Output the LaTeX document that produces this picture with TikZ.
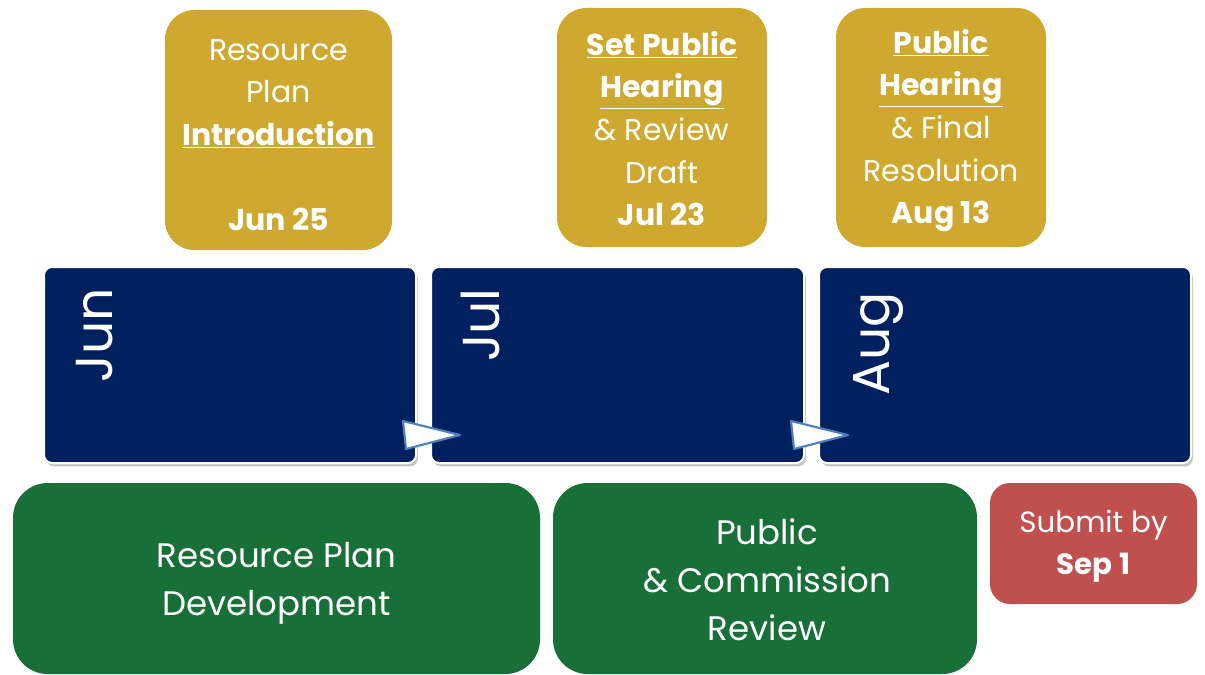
\documentclass[tikz,border=0pt]{standalone}
\usepackage{fontspec}
\setmainfont{Poppins}
\usetikzlibrary{shadows,calc}
\definecolor{gold}{RGB}{207,168,48}
\definecolor{navy}{RGB}{0,32,96}
\definecolor{dgreen}{RGB}{25,111,56}
\definecolor{dred}{RGB}{192,80,77}
\definecolor{triblue}{RGB}{79,129,189}
\tikzset{
  goldbox/.style={fill=gold, rounded corners=22pt, inner sep=0pt},
  goldtext/.style={text=white, align=center, inner sep=0pt, font=\fontsize{22.5}{32}\selectfont},
  navybox/.style={fill=navy, draw=white, line width=1.5pt, rounded corners=6pt, inner sep=0pt,
    drop shadow={shadow xshift=1.5pt, shadow yshift=-2.5pt, opacity=0.45, fill=gray}},
  monthlabel/.style={rotate=90, anchor=base east, text=white, inner sep=0pt,
    font=\fontsize{39}{39}\selectfont},
  greenbox/.style={fill=dgreen, rounded corners=26pt, inner sep=0pt},
  greentext/.style={text=white, align=center, inner sep=0pt, font=\fontsize{25.5}{36}\selectfont},
  redbox/.style={fill=dred, rounded corners=15pt, inner sep=0pt},
  redtext/.style={text=white, align=center, inner sep=0pt, font=\fontsize{22}{31.5}\selectfont},
  tri/.style={fill=white, draw=triblue, line width=1.6pt, line join=round}
}
\begin{document}
\begin{tikzpicture}[x=0.75pt,y=-0.75pt]
\useasboundingbox (0,0) rectangle (1205,674);
\fill[white] (0,0) rectangle (1205,674);
\clip (0,0) rectangle (1205,674);
% gold boxes
\node[goldbox, minimum width=170.25pt, minimum height=180pt] (g1) at (278.5,130) {};
\node[goldbox, minimum width=157.5pt, minimum height=179.25pt] (g2) at (662,127.5) {};
\node[goldbox, minimum width=157.5pt, minimum height=179.25pt] (g3) at (941,127.5) {};
\node[goldtext] (t1) at ($(g1.center)+(0,5)$)
  {Resource\\Plan\\\textbf{\underline{Introduction}}\\[32pt]\textbf{Jun 25}};
\node[goldtext] (t2) at ($(g2.center)+(0,1)$)
  {\textbf{\underline{Set Public}}\\\textbf{\underline{Hearing}}\\\& Review\\Draft\\\textbf{Jul 23}};
\node[goldtext] (t3) at ($(g3.center)+(0,3)$)
  {\textbf{\underline{Public}}\\\textbf{\underline{Hearing}}\\\& Final\\Resolution\\\textbf{Aug 13}};
% navy boxes
\node[navybox, minimum width=279pt, minimum height=147pt] (n1) at (230,365) {};
\node[navybox, minimum width=279.75pt, minimum height=147pt] (n2) at (617.5,365) {};
\node[navybox, minimum width=279pt, minimum height=147pt] (n3) at (1005,365) {};
\node[monthlabel] (l1) at ($(n1.north west)+(69,22)$) {Jun};
\node[monthlabel] (l2) at ($(n2.north west)+(69,22)$) {Jul};
\node[monthlabel] (l3) at ($(n3.north west)+(71,26)$) {Aug};
% triangles
\draw[tri] (403,421) -- (460,435) -- (406,449) -- cycle;
\draw[tri] (791,421) -- (848,435) -- (794,449) -- cycle;
% green boxes
\node[greenbox, minimum width=395.25pt, minimum height=143.25pt] (d1) at (276.5,578.5) {};
\node[greenbox, minimum width=318pt, minimum height=143.25pt] (d2) at (765,578.5) {};
\node[redbox, minimum width=155.25pt, minimum height=90.75pt] (r1) at (1093.5,543.5) {};
\node[greentext] (dt1) at ($(d1.center)+(0,5)$) {Resource Plan\\Development};
\node[greentext] (dt2) at ($(d2.center)+(2,1)$) {Public\\\& Commission\\Review};
\node[redtext] (rt1) at ($(r1.center)+(0,3)$) {Submit by\\\textbf{Sep 1}};
\end{tikzpicture}
\end{document}
